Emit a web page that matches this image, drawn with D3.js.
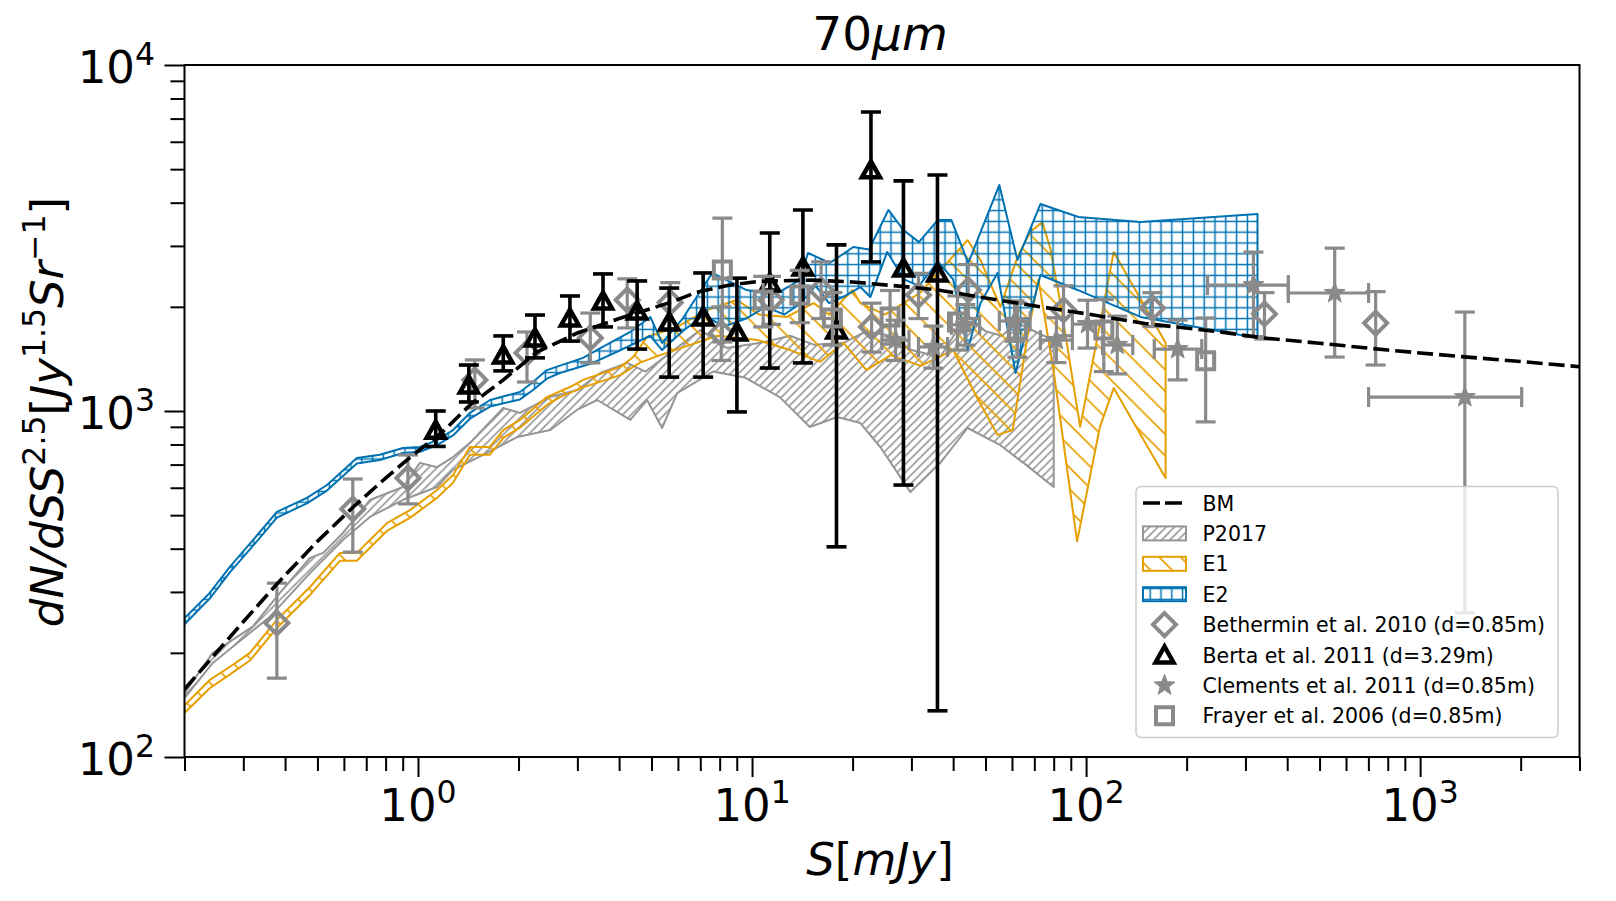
<!DOCTYPE html>
<html>
<head>
<meta charset="utf-8" />
<script src="https://cdn.jsdelivr.net/npm/d3@7"></script>
<style>
  body { margin: 0; background: #fff; }
  svg text { font-family: "DejaVu Sans", sans-serif; }
</style>
</head>
<body>
<svg id="chart" width="1616" height="901"></svg>
<script>
// ---- data ----
// BM model curve
var bmS = [0.2,0.3,0.38,0.5,0.64,0.8,0.95,1.2,1.43,1.8,2.27,3.0,4.0,5.7,6.8,8.5,10.5,15,20,27,36,50,73,100,150,250,340,500,800,1330,2000,3000];
var bmV = [157,246,318,420,528,640,736,880,1040,1230,1480,1680,1850,2060,2200,2310,2370,2390,2360,2300,2238,2120,2001,1910,1790,1695,1626,1570,1500,1436,1390,1343];

// P2017 band
var p17UpS = [0.2,0.243,0.32,0.386,0.475,0.52,0.596,0.718,0.902,1.014,1.14,1.273,1.43,1.8,2.02,2.5,3.0,3.51,4.23,4.8,5.69,7.0,8.4,10.6,13,15.3,18.8,22,26,30,36.6,44,50,56,62,70,80];
var p17Up  = [153,200,238,298,376,389,444,553,603,708,688,736,809,1021,987,1100,1150,1288,1377,1300,1472,1715,1521,1574,1650,1555,1574,1700,1650,1500,1432,1900,1700,1650,1800,1700,1600];
var p17LoS = [0.2,0.243,0.36,0.475,0.596,0.718,0.9,1.14,1.27,1.61,1.98,2.49,2.99,3.44,4.32,4.85,5.38,5.97,7.65,9.5,12.1,14.9,18,21.1,24.2,29.8,36.6,44.2,55,66,80];
var p17Lo  = [148,187,254,340,424,494,553,603,675,757,841,881,1007,1076,942,1076,893,1127,1300,1250,1097,899,961,923,787,583,708,893,800,700,603];

// E1 band
var e1UpS = [0.2,0.238,0.273,0.314,0.378,0.475,0.584,0.656,0.807,0.946,1.14,1.273,1.43,1.64,1.8,2.02,2.43,2.85,3.12,4.03,4.41,4.85,5.97,7.35,9.0,10.5,12.7,15.3,17,20,21.1,25,31.8,44.2,48.3,55.4,62.3,68,74,78,83.8,96,121,173];
var e1Up  = [141,167,182,200,249,310,389,389,474,517,591,653,787,787,881,942,1097,1173,1230,1340,1432,1637,1751,1959,2093,1900,1870,2050,1900,2238,2050,1900,2193,3119,2730,1998,2786,3289,3515,2970,2050,900,2880,1574];
var e1LoS = [0.2,0.238,0.273,0.314,0.378,0.475,0.584,0.656,0.807,0.946,1.14,1.273,1.43,1.64,1.8,2.02,2.43,2.66,3.12,4.03,4.62,5.31,6.5,7.87,10.4,13,16,18.8,22,26,32,40,47,54.3,60.3,66.7,72,80,94,110,121,173];
var e1Lo  = [134,158,173,190,236,294,369,369,450,491,561,620,747,747,836,895,1040,1097,1170,1270,1380,1450,1550,1650,1603,1500,1387,1574,1313,1450,1350,1500,1100,853,881,1637,2400,1300,420,900,1165,640];

// E2 band
var e2UpS = [0.2,0.238,0.273,0.321,0.378,0.465,0.534,0.656,0.769,0.902,1.014,1.14,1.273,1.43,1.644,2.02,2.21,2.43,3.12,3.44,4.32,4.96,5.38,6.2,7.6,9.6,11.8,13.9,14.7,17.1,20.1,22.4,25.6,28.4,31.6,36,39.5,44.4,55,62.3,73,94.9,145.5,326];
var e2Up  = [252,298,354,424,511,561,611,731,747,782,787,824,881,987,1076,1135,1213,1313,1424,1501,1692,1870,1574,1850,2506,2238,2180,2390,2863,2678,2978,2930,3811,3334,3077,3566,3566,2678,4500,2730,3965,3637,3515,3710];
var e2LoS = [0.2,0.238,0.273,0.321,0.378,0.465,0.534,0.656,0.769,0.902,1.014,1.14,1.273,1.43,1.644,2.02,2.21,2.43,2.66,3.34,4.23,4.96,5.38,6.2,7.2,8.2,9.6,11,12.5,14,15.5,17,19,21.1,22.6,25.4,28.5,31.6,36,40,44.2,48.3,54.3,61.5,73,94.3,145.5,326];
var e2Lo  = [242,287,341,408,492,541,589,705,722,756,762,797,850,950,1030,1080,1150,1240,1288,1377,1531,1650,1500,1700,1900,1750,1850,2000,1900,2050,2300,2050,2150,2282,2135,2882,2400,2300,2700,2400,1500,2050,2506,1288,2472,2238,1870,1626];

// Bethermin et al. 2010
var bethS  = [0.378,0.638,0.933,1.48,2.12,3.28,4.23,5.69,8.09,11.4,16.1,22.8,31.5,44.4,85.6,158,342,736];
var bethV  = [244,521,640,1230,1472,1626,2093,2060,1679,2093,2238,1750,2163,2238,1959,1984,1907,1795];
var bethLo = [169,391,539,1020,1213,1377,1738,1720,1400,1780,1850,1480,1850,1850,1650,1754,1614,1358];
var bethHi = [318,636,746,1405,1692,1919,2410,2350,2000,2450,2700,2050,2500,2650,2300,2198,2198,2213];

// Berta et al. 2011
var bertS  = [1.13,1.42,1.80,2.24,2.85,3.58,4.53,5.65,7.14,9.01,11.3,14.2,17.9,22.7,28.4,35.9];
var bertV  = [880,1189,1452,1626,1857,2080,1945,1808,1870,1692,2344,2606,1715,4977,2588,2506];
var bertLo = [790,1062,1306,1424,1592,1750,1510,1253,1253,994,1331,1377,405,2697,611,136];
var bertHi = [1000,1358,1648,1894,2150,2490,2376,2266,2506,2421,3268,3811,3020,7311,4624,4808];

// Clements et al. 2011
var clemS   = [26.9,34.9,43.5,61.1,81.5,101,124,188,317,555,1361];
var clemV   = [1603,1531,1775,1820,1603,1783,1552,1510,2312,2193,1097];
var clemSlo = [24.5,31.5,39.5,55,73,91,112,160,231,403,701];
var clemShi = [29.5,38.5,48,68,91,112,138,222,403,701,2014];
var clemLo  = [1400,1330,1550,1590,1380,1520,1280,1230,1640,1432,261];
var clemHi  = [1830,1760,2030,2080,1860,2090,1880,1832,2880,2958,1932];

// Frayer et al. 2006
var fraS  = [8.15,10.8,13.9,17.4,25.9,41.2,62.3,113,228];
var fraV  = [2556,2093,2163,1857,1870,1808,1715,1715,1396];
var fraLo = [1583,1750,1800,1550,1560,1500,1430,1300,930];
var fraHi = [3610,2450,2550,2200,2230,2150,2050,2100,1857];

var xMajor = [1, 10, 100, 1000];
var yMajor = [100, 1000, 10000];
var legendLabels = ["BM","P2017","E1","E2","Bethermin et al. 2010 (d=0.85m)","Berta et al. 2011 (d=3.29m)","Clements et al. 2011 (d=0.85m)","Frayer et al. 2006 (d=0.85m)"];

// ---- chart ----
var blue = "#0072b2", orange = "#e69f00", grey = "#8a8a8a", bandGrey = "#969696";
var pl = 184.5, pr = 1579.5, pt = 65, pb = 757;

var svg = d3.select("#chart");
var x = d3.scaleLog().domain([0.2, 3000]).range([pl, pr]);
var y = d3.scaleLog().domain([100, 10000]).range([pb, pt]);

var defs = svg.append("defs");
defs.append("clipPath").attr("id", "clip")
  .append("rect").attr("x", pl).attr("y", pt).attr("width", pr - pl).attr("height", pb - pt);

function hatch(id, size, d, col, w) {
  var p = defs.append("pattern").attr("id", id)
    .attr("patternUnits", "userSpaceOnUse")
    .attr("width", size).attr("height", size);
  p.append("path").attr("d", d).attr("stroke", col).attr("stroke-width", w).attr("fill", "none");
}
var h1 = 8.3, h2 = 21.5, h3 = 10.8;
hatch("hP17", h1, "M-2,2L2,-2M0," + h1 + "L" + h1 + ",0M" + (h1 - 2) + "," + (h1 + 2) + "L" + (h1 + 2) + "," + (h1 - 2), bandGrey, 1.6);
hatch("hE1", h2, "M0,0L" + h2 + "," + h2 + "M-5," + (h2 - 5) + "L5," + (h2 + 5) + "M" + (h2 - 5) + ",-5L" + (h2 + 5) + ",5", orange, 1.7);
hatch("hE2", h3, "M0," + h3 / 2 + "H" + h3 + "M" + h3 / 2 + ",0V" + h3, blue, 1.5);

var plot = svg.append("g").attr("clip-path", "url(#clip)");

var line = d3.line().x(function(d) { return x(d[0]); }).y(function(d) { return y(d[1]); });

function band(us, uv, ls, lv, pat, col) {
  var pts = d3.zip(us, uv).concat(d3.zip(ls, lv).reverse());
  plot.append("path")
    .attr("d", line(pts) + "Z")
    .attr("fill", "url(#" + pat + ")")
    .attr("stroke", col)
    .attr("stroke-width", 2)
    .attr("stroke-linejoin", "round");
}
band(p17UpS, p17Up, p17LoS, p17Lo, "hP17", bandGrey);
band(e1UpS, e1Up, e1LoS, e1Lo, "hE1", orange);
band(e2UpS, e2Up, e2LoS, e2Lo, "hE2", blue);

// marker shapes
var mk = {
  diamond: "M0,-11.5L11.5,0L0,11.5L-11.5,0Z",
  triangle: "M0,-8.5L9,7.5L-9,7.5Z",
  square: "M-8.5,-8.5H8.5V8.5H-8.5Z",
  star: (function() {
    var p = [];
    for (var i = 0; i < 10; i++) {
      var r = i % 2 ? 4.6 : 11, a = -Math.PI / 2 + i * Math.PI / 5;
      p.push([r * Math.cos(a), r * Math.sin(a)]);
    }
    return "M" + p.join("L") + "Z";
  })()
};

function errY(g, S, lo, hi, col, w) {
  var gg = g.append("g").attr("stroke", col).attr("stroke-width", w).attr("fill", "none");
  S.forEach(function(s, i) {
    gg.append("line").attr("x1", x(s)).attr("x2", x(s)).attr("y1", y(lo[i])).attr("y2", y(hi[i]));
    [lo[i], hi[i]].forEach(function(v) {
      gg.append("line").attr("x1", x(s) - 10).attr("x2", x(s) + 10).attr("y1", y(v)).attr("y2", y(v));
    });
  });
}
function errX(g, V, slo, shi, col, w) {
  var gg = g.append("g").attr("stroke", col).attr("stroke-width", w).attr("fill", "none");
  V.forEach(function(v, i) {
    gg.append("line").attr("x1", x(slo[i])).attr("x2", x(shi[i])).attr("y1", y(v)).attr("y2", y(v));
    [slo[i], shi[i]].forEach(function(s) {
      gg.append("line").attr("x1", x(s)).attr("x2", x(s)).attr("y1", y(v) - 10).attr("y2", y(v) + 10);
    });
  });
}
function markers(g, S, V, shape, col, filled, sw) {
  g.selectAll(null).data(d3.zip(S, V)).enter().append("path")
    .attr("d", mk[shape])
    .attr("transform", function(d) { return "translate(" + x(d[0]) + "," + y(d[1]) + ")"; })
    .attr("fill", filled ? col : "none")
    .attr("stroke", col)
    .attr("stroke-width", sw)
    .attr("stroke-linejoin", "miter");
}

var marks = plot.append("g");
errY(marks, bethS, bethLo, bethHi, grey, 3.2);
markers(marks, bethS, bethV, "diamond", grey, false, 4);
errY(marks, bertS, bertLo, bertHi, "#000", 3.6);
markers(marks, bertS, bertV, "triangle", "#000", false, 4.5);
errY(marks, clemS, clemLo, clemHi, grey, 3.2);
errX(marks, clemV, clemSlo, clemShi, grey, 3.2);
markers(marks, clemS, clemV, "star", grey, true, 1);
errY(marks, fraS, fraLo, fraHi, grey, 3.2);
markers(marks, fraS, fraV, "square", grey, false, 4);

// BM dashed line on top
plot.append("path")
  .attr("d", line(d3.zip(bmS, bmV)))
  .attr("fill", "none")
  .attr("stroke", "#000")
  .attr("stroke-width", 3.6)
  .attr("stroke-dasharray", "16,6");

// ---- axes ----
var xMinor = x.ticks().filter(function(v) { return xMajor.indexOf(v) < 0; });
var yMinor = y.ticks().filter(function(v) { return yMajor.indexOf(v) < 0; });

function styleAxis(g) {
  g.select(".domain").remove();
  g.selectAll(".tick line").attr("stroke", "#000").attr("stroke-width", 2);
}
svg.append("g").attr("transform", "translate(0," + pb + ")")
  .call(d3.axisBottom(x).tickValues(xMajor).tickSize(20).tickFormat("")).call(styleAxis);
svg.append("g").attr("transform", "translate(0," + pb + ")")
  .call(d3.axisBottom(x).tickValues(xMinor).tickSize(14).tickFormat("")).call(styleAxis);
svg.append("g").attr("transform", "translate(" + pl + ",0)")
  .call(d3.axisLeft(y).tickValues(yMajor).tickSize(20).tickFormat("")).call(styleAxis);
svg.append("g").attr("transform", "translate(" + pl + ",0)")
  .call(d3.axisLeft(y).tickValues(yMinor).tickSize(14).tickFormat("")).call(styleAxis);

function powLabel(px, py, v, anchor) {
  var t = svg.append("text").attr("x", px).attr("y", py)
    .attr("text-anchor", anchor).attr("font-size", 45).attr("fill", "#000");
  t.append("tspan").text("10");
  t.append("tspan").attr("dy", -18).attr("font-size", 31.5).text(Math.round(Math.log10(v)));
}
xMajor.forEach(function(v) { powLabel(x(v), pb + 64, v, "middle"); });
yMajor.forEach(function(v) { powLabel(155, y(v) + 18, v, "end"); });

// frame
svg.append("rect").attr("x", pl).attr("y", pt).attr("width", pr - pl).attr("height", pb - pt)
  .attr("fill", "none").attr("stroke", "#000").attr("stroke-width", 2);

// rich text helper: parts = [text, italic, superscript]
function rich(t, parts, size) {
  var prevSup = false;
  parts.forEach(function(p) {
    var ts = t.append("tspan").text(p[0]).attr("font-style", p[1] ? "italic" : "normal");
    if (p[2]) ts.attr("font-size", size * 0.7);
    if (p[2] && !prevSup) ts.attr("dy", -18);
    if (!p[2] && prevSup) ts.attr("dy", 18);
    prevSup = p[2];
  });
}

rich(svg.append("text").attr("x", 880).attr("y", 50).attr("text-anchor", "middle").attr("font-size", 47),
  [["70", false, false], ["\u03bcm", true, false]], 47);

rich(svg.append("text").attr("x", 880).attr("y", 875).attr("text-anchor", "middle").attr("font-size", 45),
  [["S", true, false], ["[", false, false], ["mJy", true, false], ["]", false, false]], 45);

rich(svg.append("text").attr("transform", "translate(63,412) rotate(-90)").attr("text-anchor", "middle").attr("font-size", 45),
  [["dN/dSS", true, false], ["2.5", false, true], ["[", false, false], ["Jy", true, false], ["1.5", false, true],
   ["Sr", true, false], ["\u22121", false, true], ["]", false, false]], 45);

// ---- legend ----
var lg = svg.append("g");
lg.append("rect").attr("x", 1136).attr("y", 486.5).attr("width", 422).attr("height", 251).attr("rx", 5)
  .attr("fill", "#fff").attr("fill-opacity", 0.8).attr("stroke", "#cccccc").attr("stroke-width", 1.5);
var rowY = function(i) { return 503 + i * 30.4; };
var hx0 = 1143, hx1 = 1186, hxc = 1164.5;
legendLabels.forEach(function(lab, i) {
  lg.append("text").attr("x", 1202.5).attr("y", rowY(i) + 7.5).attr("font-size", 20.5).attr("fill", "#000").text(lab);
});
lg.append("line").attr("x1", hx0).attr("x2", hx0 + 39).attr("y1", rowY(0)).attr("y2", rowY(0))
  .attr("stroke", "#000").attr("stroke-width", 3.6).attr("stroke-dasharray", "17,5");
[["hP17", bandGrey], ["hE1", orange], ["hE2", blue]].forEach(function(p, k) {
  lg.append("rect").attr("x", hx0).attr("y", rowY(k + 1) - 7).attr("width", hx1 - hx0).attr("height", 14)
    .attr("fill", "url(#" + p[0] + ")").attr("stroke", p[1]).attr("stroke-width", 2);
});
[["diamond", grey, false, 4], ["triangle", "#000", false, 4.5], ["star", grey, true, 1], ["square", grey, false, 4]].forEach(function(m, k) {
  lg.append("path").attr("d", mk[m[0]])
    .attr("transform", "translate(" + hxc + "," + rowY(k + 4) + ")")
    .attr("fill", m[2] ? m[1] : "none").attr("stroke", m[1]).attr("stroke-width", m[3]);
});
</script>
</body>
</html>
